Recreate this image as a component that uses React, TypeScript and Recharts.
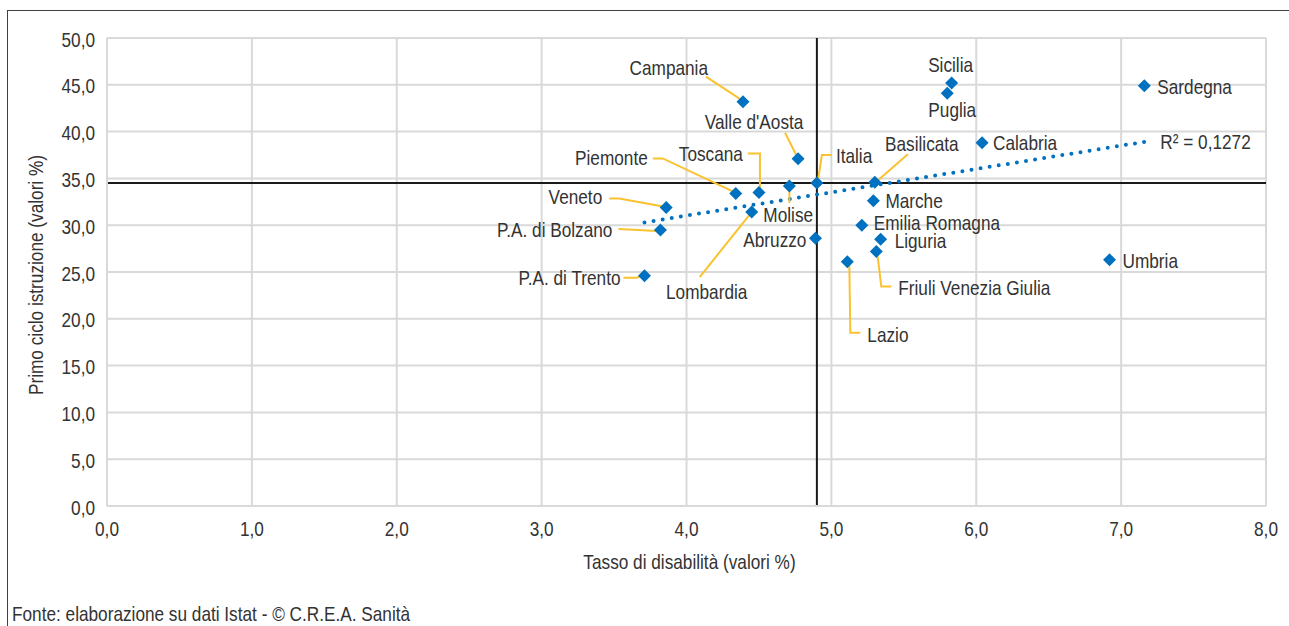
import React from 'react';
import {
  ScatterChart,
  Scatter,
  XAxis,
  YAxis,
  CartesianGrid,
  ReferenceLine,
  ReferenceDot,
  Label,
} from 'recharts';

// ---- data ----
const regions = [
  'Campania', "Valle d'Aosta", 'Toscana', 'Piemonte', 'Molise', 'Lombardia', 'Italia',
  'Veneto', 'P.A. di Bolzano', 'P.A. di Trento', 'Abruzzo', 'Basilicata', 'Marche',
  'Emilia Romagna', 'Liguria', 'Friuli Venezia Giulia', 'Lazio', 'Sicilia', 'Puglia',
  'Calabria', 'Sardegna', 'Umbria',
];
const disabilityRate = [
  4.39, 4.77, 4.5, 4.34, 4.71, 4.45, 4.9,
  3.86, 3.82, 3.71, 4.89, 5.3, 5.29,
  5.21, 5.34, 5.31, 5.11, 5.83, 5.8,
  6.04, 7.16, 6.92,
];
const primaryEducation = [
  43.2, 37.1, 33.5, 33.4, 34.2, 31.4, 34.5,
  31.9, 29.5, 24.6, 28.6, 34.6, 32.6,
  30.0, 28.5, 27.2, 26.1, 45.2, 44.1,
  38.8, 44.9, 26.3,
];
const meanX = 4.9;
const meanY = 34.5;
const trendX = [3.71, 7.16];
const trendY = [30.3, 38.9];
const rSquaredLabel = 'R² = 0,1272';
const xTicks = [0, 1, 2, 3, 4, 5, 6, 7, 8];
const yTicks = [0, 5, 10, 15, 20, 25, 30, 35, 40, 45, 50];
const xTitle = 'Tasso di disabilità (valori %)';
const yTitle = 'Primo ciclo istruzione (valori %)';
const sourceNote = 'Fonte: elaborazione su dati Istat - © C.R.E.A. Sanità';

const data = regions.map((name, i) => ({ name, x: disabilityRate[i], y: primaryEducation[i] }));

// ---- styling / label layout (pixel offsets from the marker) ----
const FONT = '"Liberation Sans", Arial, sans-serif';
const FS = 21;
const SX = 0.82; // horizontal condensing to mimic a narrow typeface
const TEXT = '#333333';
const BLUE = '#0070C0';
const LEADER = '#F9C22E';

type Anchor = 'start' | 'middle' | 'end';

const Txt = ({ x, y, anchor = 'start', rotate = 0, children, size = FS }: any) => (
  <text
    transform={`translate(${x},${y}) rotate(${rotate}) scale(${SX},1)`}
    x={0}
    y={size * 0.36}
    textAnchor={anchor}
    fontFamily={FONT}
    fontSize={size}
    fill={TEXT}
  >
    {children}
  </text>
);

type Lay = { dx: number; dy: number; anchor: Anchor; leader?: number[][] };
const layout: Record<string, Lay> = {
  Campania: { dx: -35, dy: -34, anchor: 'end', leader: [[-37, -25], [-2, -2]] },
  "Valle d'Aosta": { dx: -44, dy: -37, anchor: 'middle', leader: [[-13, -26], [-1, -2]] },
  Toscana: { dx: -16, dy: -39, anchor: 'end', leader: [[-11, -39], [1, -39], [1, -2]] },
  Piemonte: { dx: -88, dy: -36, anchor: 'end', leader: [[-83, -35], [-73, -35], [-3, -2]] },
  Molise: { dx: -26, dy: 29, anchor: 'start', leader: [[0, 4], [0, 17]] },
  Lombardia: { dx: -45, dy: 79, anchor: 'middle', leader: [[0, 0], [-52, 65]] },
  Italia: { dx: 19, dy: -28, anchor: 'start', leader: [[15, -28], [5, -28], [1, -2]] },
  Veneto: { dx: -64, dy: -11, anchor: 'end', leader: [[-57, -9], [-47, -9], [-3, -1]] },
  'P.A. di Bolzano': { dx: -48, dy: 0, anchor: 'end', leader: [[-42, -1], [-3, 1]] },
  'P.A. di Trento': { dx: -24, dy: 2, anchor: 'end', leader: [[-21, 2], [-8, 2], [-2, 0]] },
  Abruzzo: { dx: -9, dy: 1, anchor: 'end' },
  Basilicata: { dx: 47, dy: -39, anchor: 'middle', leader: [[33, -28], [2, -1]] },
  Marche: { dx: 12, dy: 0, anchor: 'start' },
  'Emilia Romagna': { dx: 12, dy: -3, anchor: 'start' },
  Liguria: { dx: 14, dy: 1, anchor: 'start' },
  'Friuli Venezia Giulia': { dx: 22, dy: 36, anchor: 'start', leader: [[1, 2], [5, 35], [15, 35]] },
  Lazio: { dx: 20, dy: 73, anchor: 'start', leader: [[2, 1], [3, 71], [13, 71]] },
  Sicilia: { dx: -1, dy: -18, anchor: 'middle' },
  Puglia: { dx: 5, dy: 16, anchor: 'middle' },
  Calabria: { dx: 11, dy: 0, anchor: 'start' },
  Sardegna: { dx: 13, dy: 1, anchor: 'start' },
  Umbria: { dx: 13, dy: 1, anchor: 'start' },
};

const fmt = (v: number) => v.toFixed(1).replace('.', ',');

const LabelShape = (props: any) => {
  const { cx, cy, payload } = props;
  const l = layout[payload.name];
  if (!l || cx == null) return <g />;
  return (
    <g>
      {l.leader && (
        <polyline
          points={l.leader.map(([a, b]) => `${cx + a},${cy + b}`).join(' ')}
          fill="none"
          stroke={LEADER}
          strokeWidth={2}
        />
      )}
      <Txt x={cx + l.dx} y={cy + l.dy} anchor={l.anchor}>
        {payload.name}
      </Txt>
    </g>
  );
};

const DiamondShape = (props: any) => {
  const { cx, cy } = props;
  if (cx == null) return <g />;
  const r = 6.5;
  return <path d={`M${cx},${cy - r}L${cx + r},${cy}L${cx},${cy + r}L${cx - r},${cy}Z`} fill={BLUE} />;
};

const RLabel = (props: any) => {
  const { cx, cy } = props;
  return (
    <Txt x={cx + 16} y={cy} anchor="start">
      {rSquaredLabel}
    </Txt>
  );
};

const XTick = (p: any) => (
  <Txt x={p.x} y={p.y + 10} anchor="middle">
    {fmt(p.payload.value)}
  </Txt>
);
const YTick = (p: any) => (
  <Txt x={p.x} y={p.y + 1} anchor="end">
    {fmt(p.payload.value)}
  </Txt>
);

export default function App() {
  return (
    <div style={{ position: 'absolute', left: 0, top: 0, width: 1289, height: 626, background: '#fff', overflow: 'hidden' }}>
      <div
        style={{
          position: 'absolute',
          left: 7,
          top: 10,
          right: -2,
          bottom: -2,
          borderTop: '1px solid #404040',
          borderLeft: '1px solid #404040',
        }}
      />
      <div style={{ position: 'absolute', left: 0, top: 0 }}>
        <ScatterChart width={1289} height={626} margin={{ top: 38, right: 23, bottom: 60, left: 27 }}>
          <CartesianGrid stroke="#d9d9d9" strokeWidth={2} />
          <XAxis
            type="number"
            dataKey="x"
            domain={[0, 8]}
            ticks={xTicks}
            height={60}
            axisLine={{ stroke: '#d9d9d9', strokeWidth: 2 }}
            tickLine={false}
            tickSize={0}
            tickMargin={12}
            tick={XTick}
            interval={0}
          >
            <Label
              content={(p: any) => {
                const vb = p.viewBox;
                return (
                  <Txt x={vb.x + vb.width / 2 + 3} y={vb.y + 55} anchor="middle">
                    {xTitle}
                  </Txt>
                );
              }}
            />
          </XAxis>
          <YAxis
            type="number"
            dataKey="y"
            domain={[0, 50]}
            ticks={yTicks}
            width={80}
            axisLine={{ stroke: '#d9d9d9', strokeWidth: 2 }}
            tickLine={false}
            tickSize={0}
            tickMargin={12}
            tick={YTick}
            interval={0}
          >
            <Label
              content={(p: any) => {
                const vb = p.viewBox;
                return (
                  <Txt x={35} y={vb.y + vb.height / 2 + 3} anchor="middle" rotate={-90}>
                    {yTitle}
                  </Txt>
                );
              }}
            />
          </YAxis>
          <ReferenceLine x={meanX} stroke="#1a1a1a" strokeWidth={2} />
          <ReferenceLine y={meanY} stroke="#1a1a1a" strokeWidth={2} />
          <ReferenceLine
            segment={[
              { x: trendX[0], y: trendY[0] },
              { x: trendX[1], y: trendY[1] },
            ]}
            stroke={BLUE}
            strokeWidth={4}
            strokeDasharray="0 9.2"
            strokeLinecap="round"
          />
          <ReferenceDot x={trendX[1]} y={trendY[1]} r={0} shape={RLabel} />
          <Scatter data={data} shape={LabelShape} isAnimationActive={false} />
          <Scatter data={data} shape={DiamondShape} isAnimationActive={false} />
        </ScatterChart>
      </div>
      <svg style={{ position: 'absolute', left: 0, top: 0 }} width={1289} height={626} pointerEvents="none">
        <Txt x={12} y={613} anchor="start">
          {sourceNote}
        </Txt>
      </svg>
    </div>
  );
}
